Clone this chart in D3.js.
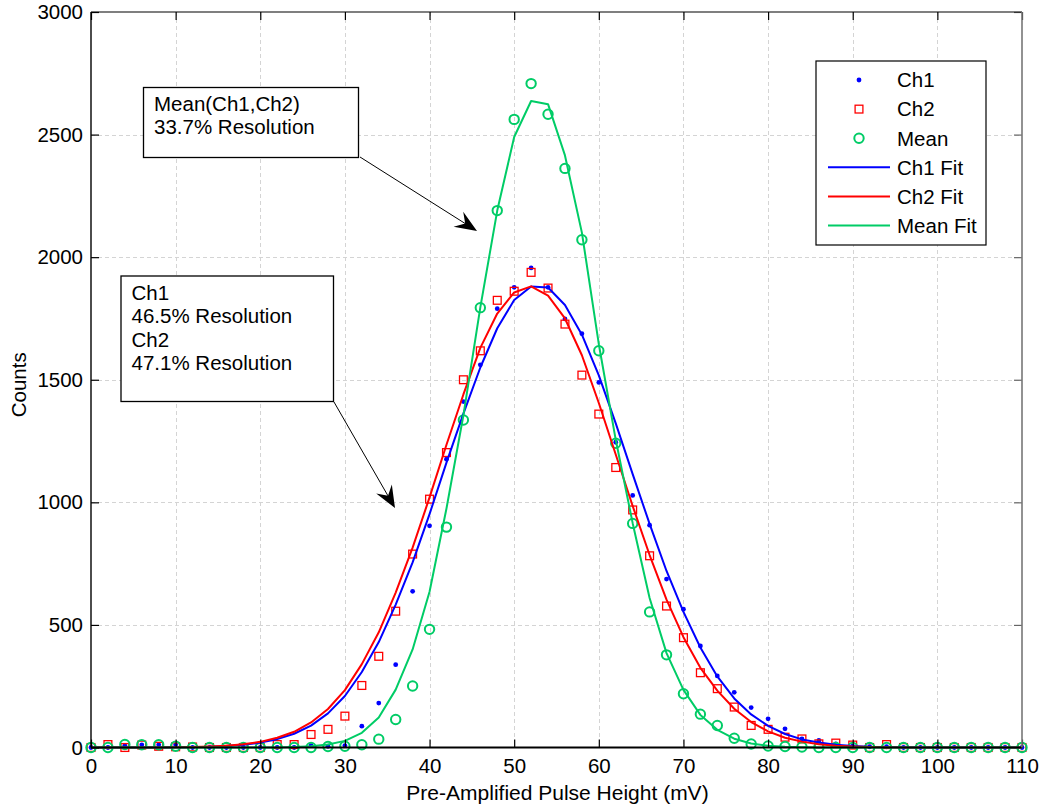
<!DOCTYPE html>
<html><head><meta charset="utf-8">
<script src="https://cdn.jsdelivr.net/npm/d3@7"></script>
<style>
body{margin:0;background:#fff}
svg{display:block}
text{font-family:"Liberation Sans",Arial,sans-serif;fill:#000}
</style>
</head><body>
<svg id="c" width="1045" height="807"></svg>
<script>
// ---------- data ----------
const pulseHeight = [0,2,4,6,8,10,12,14,16,18,20,22,24,26,28,30,32,34,36,38,40,42,44,46,48,50,52,54,56,58,60,62,64,66,68,70,72,74,76,78,80,82,84,86,88,90,92,94,96,98,100,102,104,106,108,110];
const ch1Counts = [0,0,8,11,11,11,0,0,0,0,0,0,0,8,5,8,87,181,338,637,904,1176,1411,1561,1790,1877,1956,1877,1748,1688,1489,1245,1028,907,687,564,414,292,225,163,117,76,35,29,15,5,3,3,0,0,0,0,0,0,0,0];
const ch2Counts = [0,12,0,10,5,3,2,0,0,0,0,12,12,53,74,128,253,372,556,789,1013,1203,1500,1618,1824,1861,1938,1874,1727,1519,1360,1142,969,782,577,448,305,240,165,90,74,42,35,15,18,10,0,12,0,0,0,0,0,0,0,0];
const meanCounts = [0,0,12,11,11,5,0,0,0,0,0,0,0,0,4,5,11,34,114,251,482,899,1336,1794,2190,2562,2708,2583,2362,2071,1618,1241,914,553,378,219,136,90,38,14,6,4,2,0,0,0,0,0,0,0,0,0,0,0,0,0];
const ch1Fit = [0,0,0,0,0,1,2,3,6,11,20,34,56,89,139,210,308,430,583,755,952,1162,1362,1550,1710,1825,1880,1876,1805,1684,1518,1322,1115,912,720,553,408,290,200,135,88,55,33,20,11,6,3,2,1,0,0,0,0,0,0,0];
const ch2Fit = [0,0,0,0,0,1,2,4,7,13,23,40,64,102,157,234,340,470,632,815,1020,1235,1440,1630,1770,1856,1881,1843,1750,1600,1405,1195,985,785,603,450,325,232,158,104,66,40,24,13,7,4,2,1,0,0,0,0,0,0,0,0];
const meanFit = [0,0,0,0,0,0,0,0,0,0,0,0,2,5,12,27,60,122,236,400,635,975,1355,1795,2190,2490,2637,2624,2415,2100,1645,1255,915,610,385,235,133,72,36,16,7,3,1,0,0,0,0,0,0,0,0,0,0,0,0,0];

const xTicks = [0,10,20,30,40,50,60,70,80,90,100,110];
const yTicks = [0,500,1000,1500,2000,2500,3000];
const legendLabels = ["Ch1","Ch2","Mean","Ch1 Fit","Ch2 Fit","Mean Fit"];
const meanNote = ["Mean(Ch1,Ch2)","33.7% Resolution"];
const chNote = ["Ch1","46.5% Resolution","Ch2","47.1% Resolution"];
const xTitle = "Pre-Amplified Pulse Height (mV)";
const yTitle = "Counts";

// ---------- layout ----------
const L = 91, R = 1022, T = 12, B = 747.5;
const BLUE = "#0000ff", RED = "#ff0000", GREEN = "#00cc66";
const FS = 20.5;

const svg = d3.select("#c");
svg.append("rect").attr("width",1045).attr("height",807).attr("fill","#fff");

const x = d3.scaleLinear().domain([0,110]).range([L,R]);
const y = d3.scaleLinear().domain([0,3000]).range([B,T]);

// grid
const grid = svg.append("g").attr("stroke","#d4d4d4").attr("stroke-width",1).attr("stroke-dasharray","4,3");
grid.selectAll("line.gx").data(xTicks.slice(1,-1)).join("line")
  .attr("x1",d=>Math.round(x(d))+0.5).attr("x2",d=>Math.round(x(d))+0.5).attr("y1",T).attr("y2",B);
grid.selectAll("line.gy").data(yTicks.slice(1,-1)).join("line")
  .attr("y1",d=>Math.round(y(d))+0.5).attr("y2",d=>Math.round(y(d))+0.5).attr("x1",L).attr("x2",R);

const pts = (arr) => pulseHeight.map((p,i)=>[p,arr[i]]);

// markers
svg.append("g").selectAll("circle").data(pts(ch1Counts)).join("circle")
  .attr("cx",d=>x(d[0])).attr("cy",d=>y(d[1])).attr("r",2.4).attr("fill",BLUE);
const sq = 7.8;
svg.append("g").selectAll("rect").data(pts(ch2Counts)).join("rect")
  .attr("x",d=>x(d[0])-sq/2).attr("y",d=>y(d[1])-sq/2).attr("width",sq).attr("height",sq)
  .attr("fill","none").attr("stroke",RED).attr("stroke-width",1.3);
svg.append("g").selectAll("circle").data(pts(meanCounts)).join("circle")
  .attr("cx",d=>x(d[0])).attr("cy",d=>y(d[1])).attr("r",4.7)
  .attr("fill","none").attr("stroke",GREEN).attr("stroke-width",2);

// fit lines
const line = d3.line().x(d=>x(d[0])).y(d=>y(d[1]));
[[ch1Fit,BLUE],[ch2Fit,RED],[meanFit,GREEN]].forEach(([arr,c])=>{
  svg.append("path").datum(pts(arr)).attr("d",line).attr("fill","none")
    .attr("stroke",c).attr("stroke-width",2).attr("stroke-linejoin","round");
});

// axes
const fmt = d3.format("d");
const axB = svg.append("g").attr("transform",`translate(0,${B})`)
  .call(d3.axisBottom(x).tickValues(xTicks).tickFormat(fmt).tickSizeInner(-8).tickSizeOuter(0).tickPadding(11));
const axL = svg.append("g").attr("transform",`translate(${L},0)`)
  .call(d3.axisLeft(y).tickValues(yTicks).tickFormat(fmt).tickSizeInner(-8).tickSizeOuter(0).tickPadding(8));
const axT = svg.append("g").attr("transform",`translate(0,${T})`)
  .call(d3.axisTop(x).tickValues(xTicks).tickSizeInner(-8).tickSizeOuter(0).tickFormat(""));
const axR = svg.append("g").attr("transform",`translate(${R},0)`)
  .call(d3.axisRight(y).tickValues(yTicks).tickSizeInner(-8).tickSizeOuter(0).tickFormat(""));
[axB,axL,axT,axR].forEach(a=>{
  a.select(".domain").remove();
  a.selectAll("line").attr("stroke","#000").attr("stroke-width",1.2);
  a.selectAll("text").attr("font-size",FS).attr("font-family","Liberation Sans, Arial, sans-serif").attr("fill","#000");
});
axR.selectAll("line").attr("stroke","#666");

// box
svg.append("line").attr("x1",L).attr("x2",R).attr("y1",T).attr("y2",T).attr("stroke","#000").attr("stroke-width",1.2);
svg.append("line").attr("x1",L).attr("x2",L).attr("y1",T).attr("y2",B).attr("stroke","#000").attr("stroke-width",1.4);
svg.append("line").attr("x1",L).attr("x2",R).attr("y1",B).attr("y2",B).attr("stroke","#000").attr("stroke-width",1.8);
svg.append("line").attr("x1",R).attr("x2",R).attr("y1",T).attr("y2",B).attr("stroke","#777").attr("stroke-width",1.6);

// axis titles
svg.append("text").attr("x",(L+R)/2+1).attr("y",800).attr("text-anchor","middle").attr("font-size",21).text(xTitle);
svg.append("text").attr("transform",`translate(26,${(T+B)/2+5}) rotate(-90)`).attr("text-anchor","middle").attr("font-size",FS).text(yTitle);

// legend
const lg = svg.append("g");
lg.append("rect").attr("x",816).attr("y",61).attr("width",170).attr("height",184)
  .attr("fill","#fff").attr("stroke","#000").attr("stroke-width",1.2);
const rowY = i => 80 + i*29.1;
legendLabels.forEach((t,i)=>{
  lg.append("text").attr("x",897).attr("y",rowY(i)).attr("dy","0.36em").attr("font-size",FS).text(t);
});
lg.append("circle").attr("cx",859).attr("cy",rowY(0)).attr("r",2.4).attr("fill",BLUE);
lg.append("rect").attr("x",859-sq/2).attr("y",rowY(1)-sq/2).attr("width",sq).attr("height",sq)
  .attr("fill","none").attr("stroke",RED).attr("stroke-width",1.3);
lg.append("circle").attr("cx",859).attr("cy",rowY(2)).attr("r",4.7).attr("fill","none").attr("stroke",GREEN).attr("stroke-width",2);
[BLUE,RED,GREEN].forEach((c,k)=>{
  lg.append("line").attr("x1",828).attr("x2",890).attr("y1",rowY(3+k)).attr("y2",rowY(3+k))
    .attr("stroke",c).attr("stroke-width",2);
});

// annotation boxes
function noteBox(x0,y0,w,h,lines,tx,ty0,dy){
  const g = svg.append("g");
  g.append("rect").attr("x",x0).attr("y",y0).attr("width",w).attr("height",h)
    .attr("fill","#fff").attr("stroke","#000").attr("stroke-width",1.3);
  lines.forEach((t,i)=>g.append("text").attr("x",tx).attr("y",ty0+i*dy).attr("font-size",FS).text(t));
}
noteBox(143.5,87.5,215,70,meanNote,154,111,23.4);
noteBox(121,276,212.5,125.5,chNote,131.5,300,23.4);

// arrows
function arrow(x1,y1,x2,y2){
  const dx=x2-x1, dy=y2-y1, len=Math.hypot(dx,dy), ux=dx/len, uy=dy/len, px=-uy, py=ux;
  const hl=22, hw=9, notch=8;
  svg.append("line").attr("x1",x1).attr("y1",y1).attr("x2",x2-ux*notch*1.5).attr("y2",y2-uy*notch*1.5)
    .attr("stroke","#000").attr("stroke-width",1);
  const bx=x2-ux*hl, by=y2-uy*hl;
  const p=[[x2,y2],[bx+px*hw,by+py*hw],[x2-ux*(hl-notch),y2-uy*(hl-notch)],[bx-px*hw,by-py*hw]];
  svg.append("path").attr("d","M"+p.map(q=>q.join(",")).join("L")+"Z").attr("fill","#000");
}
arrow(360,157,477,231);
arrow(334,402,395,508);
</script>
</body></html>
